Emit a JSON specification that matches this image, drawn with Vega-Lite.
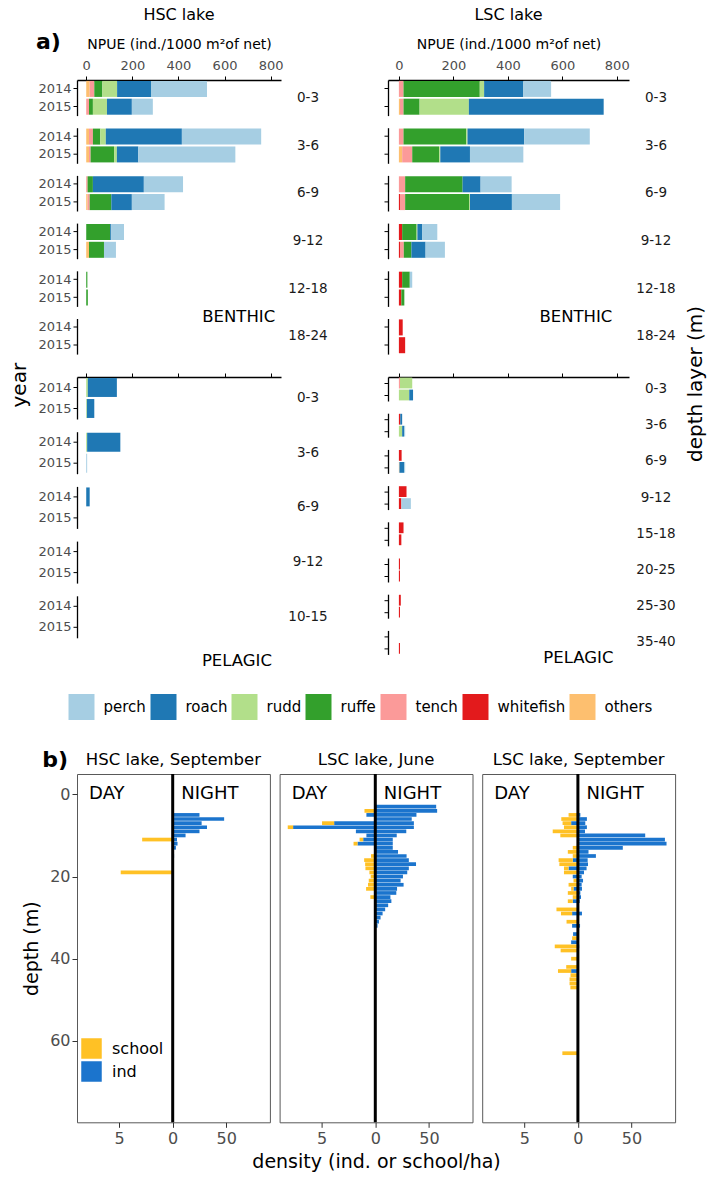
{
  "$schema": "https://vega.github.io/schema/vega-lite/v6.json",
  "padding": {"left": 9, "right": 4, "top": 7, "bottom": 5},
  "config": {
    "font": "DejaVu Sans",
    "view": {"stroke": null},
    "axis": {"grid": false, "labelFlush": false, "domainColor": "black", "tickColor": "black", "labelColor": "#4d4d4d", "titleColor": "black", "titleFontWeight": "normal"},
    "title": {"fontWeight": "normal", "color": "black"},
    "header": {"labelColor": "black"}
  },
  "datasets": {
    "npue": [
      {"lake": "HSC lake", "habitat": "benthic", "layer": "0-3", "year": "2014", "species": "others", "npue": 15},
      {"lake": "HSC lake", "habitat": "benthic", "layer": "0-3", "year": "2014", "species": "tench", "npue": 20},
      {"lake": "HSC lake", "habitat": "benthic", "layer": "0-3", "year": "2014", "species": "ruffe", "npue": 35},
      {"lake": "HSC lake", "habitat": "benthic", "layer": "0-3", "year": "2014", "species": "rudd", "npue": 64},
      {"lake": "HSC lake", "habitat": "benthic", "layer": "0-3", "year": "2014", "species": "roach", "npue": 147},
      {"lake": "HSC lake", "habitat": "benthic", "layer": "0-3", "year": "2014", "species": "perch", "npue": 243},
      {"lake": "HSC lake", "habitat": "benthic", "layer": "0-3", "year": "2015", "species": "tench", "npue": 12},
      {"lake": "HSC lake", "habitat": "benthic", "layer": "0-3", "year": "2015", "species": "ruffe", "npue": 17},
      {"lake": "HSC lake", "habitat": "benthic", "layer": "0-3", "year": "2015", "species": "rudd", "npue": 61},
      {"lake": "HSC lake", "habitat": "benthic", "layer": "0-3", "year": "2015", "species": "roach", "npue": 108},
      {"lake": "HSC lake", "habitat": "benthic", "layer": "0-3", "year": "2015", "species": "perch", "npue": 91},
      {"lake": "HSC lake", "habitat": "benthic", "layer": "3-6", "year": "2014", "species": "others", "npue": 12},
      {"lake": "HSC lake", "habitat": "benthic", "layer": "3-6", "year": "2014", "species": "tench", "npue": 17},
      {"lake": "HSC lake", "habitat": "benthic", "layer": "3-6", "year": "2014", "species": "ruffe", "npue": 32},
      {"lake": "HSC lake", "habitat": "benthic", "layer": "3-6", "year": "2014", "species": "rudd", "npue": 24},
      {"lake": "HSC lake", "habitat": "benthic", "layer": "3-6", "year": "2014", "species": "roach", "npue": 330},
      {"lake": "HSC lake", "habitat": "benthic", "layer": "3-6", "year": "2014", "species": "perch", "npue": 344},
      {"lake": "HSC lake", "habitat": "benthic", "layer": "3-6", "year": "2015", "species": "others", "npue": 12},
      {"lake": "HSC lake", "habitat": "benthic", "layer": "3-6", "year": "2015", "species": "tench", "npue": 7},
      {"lake": "HSC lake", "habitat": "benthic", "layer": "3-6", "year": "2015", "species": "ruffe", "npue": 102},
      {"lake": "HSC lake", "habitat": "benthic", "layer": "3-6", "year": "2015", "species": "rudd", "npue": 12},
      {"lake": "HSC lake", "habitat": "benthic", "layer": "3-6", "year": "2015", "species": "roach", "npue": 93},
      {"lake": "HSC lake", "habitat": "benthic", "layer": "3-6", "year": "2015", "species": "perch", "npue": 421},
      {"lake": "HSC lake", "habitat": "benthic", "layer": "6-9", "year": "2014", "species": "tench", "npue": 6},
      {"lake": "HSC lake", "habitat": "benthic", "layer": "6-9", "year": "2014", "species": "ruffe", "npue": 23},
      {"lake": "HSC lake", "habitat": "benthic", "layer": "6-9", "year": "2014", "species": "roach", "npue": 221},
      {"lake": "HSC lake", "habitat": "benthic", "layer": "6-9", "year": "2014", "species": "perch", "npue": 170},
      {"lake": "HSC lake", "habitat": "benthic", "layer": "6-9", "year": "2015", "species": "others", "npue": 6},
      {"lake": "HSC lake", "habitat": "benthic", "layer": "6-9", "year": "2015", "species": "tench", "npue": 9},
      {"lake": "HSC lake", "habitat": "benthic", "layer": "6-9", "year": "2015", "species": "ruffe", "npue": 94},
      {"lake": "HSC lake", "habitat": "benthic", "layer": "6-9", "year": "2015", "species": "roach", "npue": 89},
      {"lake": "HSC lake", "habitat": "benthic", "layer": "6-9", "year": "2015", "species": "perch", "npue": 142},
      {"lake": "HSC lake", "habitat": "benthic", "layer": "9-12", "year": "2014", "species": "ruffe", "npue": 104},
      {"lake": "HSC lake", "habitat": "benthic", "layer": "9-12", "year": "2014", "species": "roach", "npue": 5},
      {"lake": "HSC lake", "habitat": "benthic", "layer": "9-12", "year": "2014", "species": "perch", "npue": 55},
      {"lake": "HSC lake", "habitat": "benthic", "layer": "9-12", "year": "2015", "species": "others", "npue": 12},
      {"lake": "HSC lake", "habitat": "benthic", "layer": "9-12", "year": "2015", "species": "ruffe", "npue": 65},
      {"lake": "HSC lake", "habitat": "benthic", "layer": "9-12", "year": "2015", "species": "perch", "npue": 52},
      {"lake": "HSC lake", "habitat": "benthic", "layer": "12-18", "year": "2014", "species": "ruffe", "npue": 5},
      {"lake": "HSC lake", "habitat": "benthic", "layer": "12-18", "year": "2015", "species": "ruffe", "npue": 7},
      {"lake": "HSC lake", "habitat": "benthic", "layer": "18-24", "year": "2014", "species": "perch", "npue": 0},
      {"lake": "HSC lake", "habitat": "benthic", "layer": "18-24", "year": "2015", "species": "perch", "npue": 0},
      {"lake": "HSC lake", "habitat": "benthic", "layer": "18-24", "year": "2014", "note": "BENTHIC", "notex": 820},

      {"lake": "HSC lake", "habitat": "pelagic", "layer": "0-3", "year": "2014", "species": "rudd", "npue": 7},
      {"lake": "HSC lake", "habitat": "pelagic", "layer": "0-3", "year": "2014", "species": "roach", "npue": 126},
      {"lake": "HSC lake", "habitat": "pelagic", "layer": "0-3", "year": "2015", "species": "rudd", "npue": 3},
      {"lake": "HSC lake", "habitat": "pelagic", "layer": "0-3", "year": "2015", "species": "roach", "npue": 32},
      {"lake": "HSC lake", "habitat": "pelagic", "layer": "3-6", "year": "2014", "species": "rudd", "npue": 4},
      {"lake": "HSC lake", "habitat": "pelagic", "layer": "3-6", "year": "2014", "species": "roach", "npue": 144},
      {"lake": "HSC lake", "habitat": "pelagic", "layer": "3-6", "year": "2015", "species": "perch", "npue": 4},
      {"lake": "HSC lake", "habitat": "pelagic", "layer": "6-9", "year": "2014", "species": "roach", "npue": 15},
      {"lake": "HSC lake", "habitat": "pelagic", "layer": "6-9", "year": "2015", "species": "perch", "npue": 0},
      {"lake": "HSC lake", "habitat": "pelagic", "layer": "9-12", "year": "2014", "species": "perch", "npue": 0},
      {"lake": "HSC lake", "habitat": "pelagic", "layer": "9-12", "year": "2015", "species": "perch", "npue": 0},
      {"lake": "HSC lake", "habitat": "pelagic", "layer": "10-15", "year": "2014", "species": "perch", "npue": 0},
      {"lake": "HSC lake", "habitat": "pelagic", "layer": "10-15", "year": "2015", "species": "perch", "npue": 0},
      {"lake": "HSC lake", "habitat": "pelagic", "layer": "10-15", "year": "2015", "note": "PELAGIC", "notex": 806},

      {"lake": "LSC lake", "habitat": "benthic", "layer": "0-3", "year": "2014", "species": "tench", "npue": 17},
      {"lake": "LSC lake", "habitat": "benthic", "layer": "0-3", "year": "2014", "species": "ruffe", "npue": 280},
      {"lake": "LSC lake", "habitat": "benthic", "layer": "0-3", "year": "2014", "species": "rudd", "npue": 16},
      {"lake": "LSC lake", "habitat": "benthic", "layer": "0-3", "year": "2014", "species": "roach", "npue": 144},
      {"lake": "LSC lake", "habitat": "benthic", "layer": "0-3", "year": "2014", "species": "perch", "npue": 102},
      {"lake": "LSC lake", "habitat": "benthic", "layer": "0-3", "year": "2015", "species": "others", "npue": 4},
      {"lake": "LSC lake", "habitat": "benthic", "layer": "0-3", "year": "2015", "species": "tench", "npue": 13},
      {"lake": "LSC lake", "habitat": "benthic", "layer": "0-3", "year": "2015", "species": "ruffe", "npue": 59},
      {"lake": "LSC lake", "habitat": "benthic", "layer": "0-3", "year": "2015", "species": "rudd", "npue": 181},
      {"lake": "LSC lake", "habitat": "benthic", "layer": "0-3", "year": "2015", "species": "roach", "npue": 495},
      {"lake": "LSC lake", "habitat": "benthic", "layer": "3-6", "year": "2014", "species": "tench", "npue": 17},
      {"lake": "LSC lake", "habitat": "benthic", "layer": "3-6", "year": "2014", "species": "ruffe", "npue": 230},
      {"lake": "LSC lake", "habitat": "benthic", "layer": "3-6", "year": "2014", "species": "rudd", "npue": 5},
      {"lake": "LSC lake", "habitat": "benthic", "layer": "3-6", "year": "2014", "species": "roach", "npue": 208},
      {"lake": "LSC lake", "habitat": "benthic", "layer": "3-6", "year": "2014", "species": "perch", "npue": 241},
      {"lake": "LSC lake", "habitat": "benthic", "layer": "3-6", "year": "2015", "species": "others", "npue": 12},
      {"lake": "LSC lake", "habitat": "benthic", "layer": "3-6", "year": "2015", "species": "tench", "npue": 37},
      {"lake": "LSC lake", "habitat": "benthic", "layer": "3-6", "year": "2015", "species": "ruffe", "npue": 99},
      {"lake": "LSC lake", "habitat": "benthic", "layer": "3-6", "year": "2015", "species": "rudd", "npue": 4},
      {"lake": "LSC lake", "habitat": "benthic", "layer": "3-6", "year": "2015", "species": "roach", "npue": 109},
      {"lake": "LSC lake", "habitat": "benthic", "layer": "3-6", "year": "2015", "species": "perch", "npue": 196},
      {"lake": "LSC lake", "habitat": "benthic", "layer": "6-9", "year": "2014", "species": "tench", "npue": 23},
      {"lake": "LSC lake", "habitat": "benthic", "layer": "6-9", "year": "2014", "species": "ruffe", "npue": 211},
      {"lake": "LSC lake", "habitat": "benthic", "layer": "6-9", "year": "2014", "species": "roach", "npue": 66},
      {"lake": "LSC lake", "habitat": "benthic", "layer": "6-9", "year": "2014", "species": "perch", "npue": 114},
      {"lake": "LSC lake", "habitat": "benthic", "layer": "6-9", "year": "2015", "species": "whitefish", "npue": 4},
      {"lake": "LSC lake", "habitat": "benthic", "layer": "6-9", "year": "2015", "species": "tench", "npue": 19},
      {"lake": "LSC lake", "habitat": "benthic", "layer": "6-9", "year": "2015", "species": "ruffe", "npue": 235},
      {"lake": "LSC lake", "habitat": "benthic", "layer": "6-9", "year": "2015", "species": "rudd", "npue": 3},
      {"lake": "LSC lake", "habitat": "benthic", "layer": "6-9", "year": "2015", "species": "roach", "npue": 154},
      {"lake": "LSC lake", "habitat": "benthic", "layer": "6-9", "year": "2015", "species": "perch", "npue": 177},
      {"lake": "LSC lake", "habitat": "benthic", "layer": "9-12", "year": "2014", "species": "whitefish", "npue": 12},
      {"lake": "LSC lake", "habitat": "benthic", "layer": "9-12", "year": "2014", "species": "ruffe", "npue": 53},
      {"lake": "LSC lake", "habitat": "benthic", "layer": "9-12", "year": "2014", "species": "rudd", "npue": 3},
      {"lake": "LSC lake", "habitat": "benthic", "layer": "9-12", "year": "2014", "species": "roach", "npue": 17},
      {"lake": "LSC lake", "habitat": "benthic", "layer": "9-12", "year": "2014", "species": "perch", "npue": 56},
      {"lake": "LSC lake", "habitat": "benthic", "layer": "9-12", "year": "2015", "species": "whitefish", "npue": 4},
      {"lake": "LSC lake", "habitat": "benthic", "layer": "9-12", "year": "2015", "species": "tench", "npue": 14},
      {"lake": "LSC lake", "habitat": "benthic", "layer": "9-12", "year": "2015", "species": "ruffe", "npue": 28},
      {"lake": "LSC lake", "habitat": "benthic", "layer": "9-12", "year": "2015", "species": "roach", "npue": 52},
      {"lake": "LSC lake", "habitat": "benthic", "layer": "9-12", "year": "2015", "species": "perch", "npue": 71},
      {"lake": "LSC lake", "habitat": "benthic", "layer": "12-18", "year": "2014", "species": "whitefish", "npue": 12},
      {"lake": "LSC lake", "habitat": "benthic", "layer": "12-18", "year": "2014", "species": "ruffe", "npue": 28},
      {"lake": "LSC lake", "habitat": "benthic", "layer": "12-18", "year": "2014", "species": "perch", "npue": 9},
      {"lake": "LSC lake", "habitat": "benthic", "layer": "12-18", "year": "2015", "species": "whitefish", "npue": 9},
      {"lake": "LSC lake", "habitat": "benthic", "layer": "12-18", "year": "2015", "species": "ruffe", "npue": 11},
      {"lake": "LSC lake", "habitat": "benthic", "layer": "18-24", "year": "2014", "species": "whitefish", "npue": 14},
      {"lake": "LSC lake", "habitat": "benthic", "layer": "18-24", "year": "2015", "species": "whitefish", "npue": 23},
      {"lake": "LSC lake", "habitat": "benthic", "layer": "18-24", "year": "2014", "note": "BENTHIC", "notex": 784},

      {"lake": "LSC lake", "habitat": "pelagic", "layer": "0-3", "year": "2014", "species": "tench", "npue": 4},
      {"lake": "LSC lake", "habitat": "pelagic", "layer": "0-3", "year": "2014", "species": "rudd", "npue": 45},
      {"lake": "LSC lake", "habitat": "pelagic", "layer": "0-3", "year": "2015", "species": "rudd", "npue": 38},
      {"lake": "LSC lake", "habitat": "pelagic", "layer": "0-3", "year": "2015", "species": "roach", "npue": 14},
      {"lake": "LSC lake", "habitat": "pelagic", "layer": "3-6", "year": "2014", "species": "whitefish", "npue": 5},
      {"lake": "LSC lake", "habitat": "pelagic", "layer": "3-6", "year": "2014", "species": "roach", "npue": 7},
      {"lake": "LSC lake", "habitat": "pelagic", "layer": "3-6", "year": "2015", "species": "rudd", "npue": 12},
      {"lake": "LSC lake", "habitat": "pelagic", "layer": "3-6", "year": "2015", "species": "roach", "npue": 7},
      {"lake": "LSC lake", "habitat": "pelagic", "layer": "3-6", "year": "2015", "species": "perch", "npue": 4},
      {"lake": "LSC lake", "habitat": "pelagic", "layer": "6-9", "year": "2014", "species": "whitefish", "npue": 10},
      {"lake": "LSC lake", "habitat": "pelagic", "layer": "6-9", "year": "2015", "species": "others", "npue": 2},
      {"lake": "LSC lake", "habitat": "pelagic", "layer": "6-9", "year": "2015", "species": "roach", "npue": 17},
      {"lake": "LSC lake", "habitat": "pelagic", "layer": "6-9", "year": "2015", "species": "perch", "npue": 4},
      {"lake": "LSC lake", "habitat": "pelagic", "layer": "9-12", "year": "2014", "species": "whitefish", "npue": 28},
      {"lake": "LSC lake", "habitat": "pelagic", "layer": "9-12", "year": "2015", "species": "whitefish", "npue": 9},
      {"lake": "LSC lake", "habitat": "pelagic", "layer": "9-12", "year": "2015", "species": "perch", "npue": 35},
      {"lake": "LSC lake", "habitat": "pelagic", "layer": "15-18", "year": "2014", "species": "whitefish", "npue": 17},
      {"lake": "LSC lake", "habitat": "pelagic", "layer": "15-18", "year": "2015", "species": "whitefish", "npue": 9},
      {"lake": "LSC lake", "habitat": "pelagic", "layer": "20-25", "year": "2014", "species": "whitefish", "npue": 4},
      {"lake": "LSC lake", "habitat": "pelagic", "layer": "20-25", "year": "2015", "species": "whitefish", "npue": 4},
      {"lake": "LSC lake", "habitat": "pelagic", "layer": "25-30", "year": "2014", "species": "whitefish", "npue": 7},
      {"lake": "LSC lake", "habitat": "pelagic", "layer": "25-30", "year": "2015", "species": "whitefish", "npue": 4},
      {"lake": "LSC lake", "habitat": "pelagic", "layer": "35-40", "year": "2014", "species": "perch", "npue": 0},
      {"lake": "LSC lake", "habitat": "pelagic", "layer": "35-40", "year": "2015", "species": "whitefish", "npue": 4},
      {"lake": "LSC lake", "habitat": "pelagic", "layer": "35-40", "year": "2015", "note": "PELAGIC", "notex": 788}
    ],
    "dens": [
      {"panel": "HSC lake, September", "depth": 5, "period": "NIGHT", "type": "ind", "density": 25},
      {"panel": "HSC lake, September", "depth": 6, "period": "NIGHT", "type": "ind", "density": 48},
      {"panel": "HSC lake, September", "depth": 7, "period": "NIGHT", "type": "ind", "density": 27},
      {"panel": "HSC lake, September", "depth": 8, "period": "NIGHT", "type": "ind", "density": 32},
      {"panel": "HSC lake, September", "depth": 9, "period": "NIGHT", "type": "ind", "density": 25},
      {"panel": "HSC lake, September", "depth": 10, "period": "NIGHT", "type": "ind", "density": 12},
      {"panel": "HSC lake, September", "depth": 11, "period": "NIGHT", "type": "ind", "density": 4},
      {"panel": "HSC lake, September", "depth": 12, "period": "NIGHT", "type": "ind", "density": 4.5},
      {"panel": "HSC lake, September", "depth": 13, "period": "NIGHT", "type": "ind", "density": 3},
      {"panel": "HSC lake, September", "depth": 15, "period": "NIGHT", "type": "ind", "density": 1.3},
      {"panel": "HSC lake, September", "depth": 11, "period": "DAY", "type": "school", "density": 2.85},
      {"panel": "HSC lake, September", "depth": 19, "period": "DAY", "type": "school", "density": 4.85},

      {"panel": "LSC lake, June", "depth": 3, "period": "NIGHT", "type": "ind", "density": 56.8},
      {"panel": "LSC lake, June", "depth": 4, "period": "NIGHT", "type": "ind", "density": 57.7},
      {"panel": "LSC lake, June", "depth": 5, "period": "NIGHT", "type": "ind", "density": 38.4},
      {"panel": "LSC lake, June", "depth": 6, "period": "NIGHT", "type": "ind", "density": 34},
      {"panel": "LSC lake, June", "depth": 7, "period": "NIGHT", "type": "ind", "density": 36},
      {"panel": "LSC lake, June", "depth": 8, "period": "NIGHT", "type": "ind", "density": 36},
      {"panel": "LSC lake, June", "depth": 9, "period": "NIGHT", "type": "ind", "density": 28.9},
      {"panel": "LSC lake, June", "depth": 10, "period": "NIGHT", "type": "ind", "density": 20},
      {"panel": "LSC lake, June", "depth": 11, "period": "NIGHT", "type": "ind", "density": 16.3},
      {"panel": "LSC lake, June", "depth": 12, "period": "NIGHT", "type": "ind", "density": 16.3},
      {"panel": "LSC lake, June", "depth": 13, "period": "NIGHT", "type": "ind", "density": 16.3},
      {"panel": "LSC lake, June", "depth": 14, "period": "NIGHT", "type": "ind", "density": 21.2},
      {"panel": "LSC lake, June", "depth": 15, "period": "NIGHT", "type": "ind", "density": 29.2},
      {"panel": "LSC lake, June", "depth": 16, "period": "NIGHT", "type": "ind", "density": 31.3},
      {"panel": "LSC lake, June", "depth": 17, "period": "NIGHT", "type": "ind", "density": 38},
      {"panel": "LSC lake, June", "depth": 18, "period": "NIGHT", "type": "ind", "density": 31.3},
      {"panel": "LSC lake, June", "depth": 19, "period": "NIGHT", "type": "ind", "density": 29.8},
      {"panel": "LSC lake, June", "depth": 20, "period": "NIGHT", "type": "ind", "density": 25.8},
      {"panel": "LSC lake, June", "depth": 21, "period": "NIGHT", "type": "ind", "density": 23.6},
      {"panel": "LSC lake, June", "depth": 22, "period": "NIGHT", "type": "ind", "density": 26.4},
      {"panel": "LSC lake, June", "depth": 23, "period": "NIGHT", "type": "ind", "density": 20.3},
      {"panel": "LSC lake, June", "depth": 24, "period": "NIGHT", "type": "ind", "density": 19.6},
      {"panel": "LSC lake, June", "depth": 25, "period": "NIGHT", "type": "ind", "density": 14.1},
      {"panel": "LSC lake, June", "depth": 26, "period": "NIGHT", "type": "ind", "density": 15},
      {"panel": "LSC lake, June", "depth": 27, "period": "NIGHT", "type": "ind", "density": 12},
      {"panel": "LSC lake, June", "depth": 28, "period": "NIGHT", "type": "ind", "density": 9.2},
      {"panel": "LSC lake, June", "depth": 29, "period": "NIGHT", "type": "ind", "density": 6.8},
      {"panel": "LSC lake, June", "depth": 30, "period": "NIGHT", "type": "ind", "density": 4.9},
      {"panel": "LSC lake, June", "depth": 31, "period": "NIGHT", "type": "ind", "density": 3.4},
      {"panel": "LSC lake, June", "depth": 32, "period": "NIGHT", "type": "ind", "density": 2.1},
      {"panel": "LSC lake, June", "depth": 5, "period": "DAY", "type": "ind", "density": 0.83},
      {"panel": "LSC lake, June", "depth": 7, "period": "DAY", "type": "ind", "density": 3.84},
      {"panel": "LSC lake, June", "depth": 8, "period": "DAY", "type": "ind", "density": 7.67},
      {"panel": "LSC lake, June", "depth": 9, "period": "DAY", "type": "ind", "density": 1.81},
      {"panel": "LSC lake, June", "depth": 10, "period": "DAY", "type": "ind", "density": 0.83},
      {"panel": "LSC lake, June", "depth": 11, "period": "DAY", "type": "ind", "density": 1.13},
      {"panel": "LSC lake, June", "depth": 12, "period": "DAY", "type": "ind", "density": 1.66},
      {"panel": "LSC lake, June", "depth": 4, "period": "DAY", "type": "school", "density": 1.01},
      {"panel": "LSC lake, June", "depth": 7, "period": "DAY", "type": "school", "density": 1.13},
      {"panel": "LSC lake, June", "depth": 8, "period": "DAY", "type": "school", "density": 0.5},
      {"panel": "LSC lake, June", "depth": 11, "period": "DAY", "type": "school", "density": 0.34},
      {"panel": "LSC lake, June", "depth": 12, "period": "DAY", "type": "school", "density": 0.37},
      {"panel": "LSC lake, June", "depth": 15, "period": "DAY", "type": "school", "density": 0.4},
      {"panel": "LSC lake, June", "depth": 16, "period": "DAY", "type": "school", "density": 1.04},
      {"panel": "LSC lake, June", "depth": 17, "period": "DAY", "type": "school", "density": 0.95},
      {"panel": "LSC lake, June", "depth": 18, "period": "DAY", "type": "school", "density": 0.92},
      {"panel": "LSC lake, June", "depth": 19, "period": "DAY", "type": "school", "density": 0.55},
      {"panel": "LSC lake, June", "depth": 20, "period": "DAY", "type": "school", "density": 0.43},
      {"panel": "LSC lake, June", "depth": 21, "period": "DAY", "type": "school", "density": 0.61},
      {"panel": "LSC lake, June", "depth": 22, "period": "DAY", "type": "school", "density": 0.68},
      {"panel": "LSC lake, June", "depth": 23, "period": "DAY", "type": "school", "density": 0.86},
      {"panel": "LSC lake, June", "depth": 25, "period": "DAY", "type": "school", "density": 0.46},

      {"panel": "LSC lake, September", "depth": 5, "period": "NIGHT", "type": "ind", "density": 2.3},
      {"panel": "LSC lake, September", "depth": 6, "period": "NIGHT", "type": "ind", "density": 8.4},
      {"panel": "LSC lake, September", "depth": 7, "period": "NIGHT", "type": "ind", "density": 6.9},
      {"panel": "LSC lake, September", "depth": 8, "period": "NIGHT", "type": "ind", "density": 8.4},
      {"panel": "LSC lake, September", "depth": 9, "period": "NIGHT", "type": "ind", "density": 6.6},
      {"panel": "LSC lake, September", "depth": 10, "period": "NIGHT", "type": "ind", "density": 62.8},
      {"panel": "LSC lake, September", "depth": 11, "period": "NIGHT", "type": "ind", "density": 81.2},
      {"panel": "LSC lake, September", "depth": 12, "period": "NIGHT", "type": "ind", "density": 82.7},
      {"panel": "LSC lake, September", "depth": 13, "period": "NIGHT", "type": "ind", "density": 41.9},
      {"panel": "LSC lake, September", "depth": 14, "period": "NIGHT", "type": "ind", "density": 9.9},
      {"panel": "LSC lake, September", "depth": 15, "period": "NIGHT", "type": "ind", "density": 16.8},
      {"panel": "LSC lake, September", "depth": 16, "period": "NIGHT", "type": "ind", "density": 9.1},
      {"panel": "LSC lake, September", "depth": 17, "period": "NIGHT", "type": "ind", "density": 9.4},
      {"panel": "LSC lake, September", "depth": 18, "period": "NIGHT", "type": "ind", "density": 8.1},
      {"panel": "LSC lake, September", "depth": 19, "period": "NIGHT", "type": "ind", "density": 5.7},
      {"panel": "LSC lake, September", "depth": 20, "period": "NIGHT", "type": "ind", "density": 3.5},
      {"panel": "LSC lake, September", "depth": 21, "period": "NIGHT", "type": "ind", "density": 4.8},
      {"panel": "LSC lake, September", "depth": 22, "period": "NIGHT", "type": "ind", "density": 3.5},
      {"panel": "LSC lake, September", "depth": 23, "period": "NIGHT", "type": "ind", "density": 3.8},
      {"panel": "LSC lake, September", "depth": 24, "period": "NIGHT", "type": "ind", "density": 2.3},
      {"panel": "LSC lake, September", "depth": 25, "period": "NIGHT", "type": "ind", "density": 2.9},
      {"panel": "LSC lake, September", "depth": 26, "period": "NIGHT", "type": "ind", "density": 1.7},
      {"panel": "LSC lake, September", "depth": 29, "period": "NIGHT", "type": "ind", "density": 3.8},
      {"panel": "LSC lake, September", "depth": 32, "period": "NIGHT", "type": "ind", "density": 2.0},
      {"panel": "LSC lake, September", "depth": 34, "period": "NIGHT", "type": "ind", "density": 1.0},
      {"panel": "LSC lake, September", "depth": 37, "period": "NIGHT", "type": "ind", "density": 1.2},
      {"panel": "LSC lake, September", "depth": 7, "period": "DAY", "type": "ind", "density": 0.63},
      {"panel": "LSC lake, September", "depth": 16, "period": "DAY", "type": "ind", "density": 0.48},
      {"panel": "LSC lake, September", "depth": 18, "period": "DAY", "type": "ind", "density": 0.87},
      {"panel": "LSC lake, September", "depth": 20, "period": "DAY", "type": "ind", "density": 0.48},
      {"panel": "LSC lake, September", "depth": 23, "period": "DAY", "type": "ind", "density": 0.41},
      {"panel": "LSC lake, September", "depth": 26, "period": "DAY", "type": "ind", "density": 0.48},
      {"panel": "LSC lake, September", "depth": 29, "period": "DAY", "type": "ind", "density": 0.54},
      {"panel": "LSC lake, September", "depth": 32, "period": "DAY", "type": "ind", "density": 0.54},
      {"panel": "LSC lake, September", "depth": 34, "period": "DAY", "type": "ind", "density": 0.45},
      {"panel": "LSC lake, September", "depth": 36, "period": "DAY", "type": "ind", "density": 0.63},
      {"panel": "LSC lake, September", "depth": 43, "period": "DAY", "type": "ind", "density": 0.63},
      {"panel": "LSC lake, September", "depth": 5, "period": "DAY", "type": "school", "density": 0.87},
      {"panel": "LSC lake, September", "depth": 6, "period": "DAY", "type": "school", "density": 1.55},
      {"panel": "LSC lake, September", "depth": 7, "period": "DAY", "type": "school", "density": 0.8},
      {"panel": "LSC lake, September", "depth": 8, "period": "DAY", "type": "school", "density": 1.3},
      {"panel": "LSC lake, September", "depth": 9, "period": "DAY", "type": "school", "density": 2.35},
      {"panel": "LSC lake, September", "depth": 10, "period": "DAY", "type": "school", "density": 1.64},
      {"panel": "LSC lake, September", "depth": 13, "period": "DAY", "type": "school", "density": 0.48},
      {"panel": "LSC lake, September", "depth": 14, "period": "DAY", "type": "school", "density": 0.94},
      {"panel": "LSC lake, September", "depth": 15, "period": "DAY", "type": "school", "density": 0.48},
      {"panel": "LSC lake, September", "depth": 16, "period": "DAY", "type": "school", "density": 1.32},
      {"panel": "LSC lake, September", "depth": 17, "period": "DAY", "type": "school", "density": 1.73},
      {"panel": "LSC lake, September", "depth": 18, "period": "DAY", "type": "school", "density": 0.43},
      {"panel": "LSC lake, September", "depth": 19, "period": "DAY", "type": "school", "density": 1.3},
      {"panel": "LSC lake, September", "depth": 21, "period": "DAY", "type": "school", "density": 0.41},
      {"panel": "LSC lake, September", "depth": 22, "period": "DAY", "type": "school", "density": 0.87},
      {"panel": "LSC lake, September", "depth": 23, "period": "DAY", "type": "school", "density": 0.22},
      {"panel": "LSC lake, September", "depth": 24, "period": "DAY", "type": "school", "density": 0.94},
      {"panel": "LSC lake, September", "depth": 25, "period": "DAY", "type": "school", "density": 0.48},
      {"panel": "LSC lake, September", "depth": 26, "period": "DAY", "type": "school", "density": 0.46},
      {"panel": "LSC lake, September", "depth": 28, "period": "DAY", "type": "school", "density": 2.0},
      {"panel": "LSC lake, September", "depth": 29, "period": "DAY", "type": "school", "density": 1.04},
      {"panel": "LSC lake, September", "depth": 31, "period": "DAY", "type": "school", "density": 1.06},
      {"panel": "LSC lake, September", "depth": 35, "period": "DAY", "type": "school", "density": 0.54},
      {"panel": "LSC lake, September", "depth": 37, "period": "DAY", "type": "school", "density": 2.16},
      {"panel": "LSC lake, September", "depth": 38, "period": "DAY", "type": "school", "density": 1.61},
      {"panel": "LSC lake, September", "depth": 40, "period": "DAY", "type": "school", "density": 0.63},
      {"panel": "LSC lake, September", "depth": 42, "period": "DAY", "type": "school", "density": 1.09},
      {"panel": "LSC lake, September", "depth": 43, "period": "DAY", "type": "school", "density": 1.23},
      {"panel": "LSC lake, September", "depth": 44, "period": "DAY", "type": "school", "density": 0.69},
      {"panel": "LSC lake, September", "depth": 45, "period": "DAY", "type": "school", "density": 0.78},
      {"panel": "LSC lake, September", "depth": 46, "period": "DAY", "type": "school", "density": 0.78},
      {"panel": "LSC lake, September", "depth": 47, "period": "DAY", "type": "school", "density": 0.7},
      {"panel": "LSC lake, September", "depth": 63, "period": "DAY", "type": "school", "density": 1.45}
    ]
  },
  "resolve": {"scale": {"color": "independent"}},
  "spacing": 28,
  "vconcat": [
    {
      "title": {"text": "a)", "anchor": "start", "fontSize": 22, "fontWeight": "bold", "dx": 26, "dy": 51},
      "spacing": 55,
      "hconcat": [
        {
          "title": {"text": "year", "orient": "left", "anchor": "middle", "fontSize": 20, "offset": 8, "dx": -47},
          "spacing": 17,
          "vconcat": [
            {
              "data": {"name": "npue"},
              "transform": [
                {"filter": "datum.lake == 'HSC lake' && datum.habitat == 'benthic'"},
                {"calculate": "indexof(['others','whitefish','tench','ruffe','rudd','roach','perch'], datum.species)", "as": "ord"}
              ],
              "facet": {
                "column": {"field": "lake", "type": "nominal", "title": null, "header": {"labelFontSize": 16, "labelColor": "black", "labelPadding": 14}},
                "row": {"field": "layer", "type": "nominal", "sort": ["0-3", "3-6", "6-9", "9-12", "12-18", "18-24"], "title": null, "header": {"labels": false}}
              },
              "spacing": {"row": 11.7},
              "bounds": "flush",
              "spec": {
                "width": 204, "height": 35.6,
                "layer": [
                  {
                    "transform": [{"filter": "datum.species != null"}],
                    "mark": {"type": "bar"},
                    "encoding": {
                      "y": {"field": "year", "type": "nominal", "scale": {"domain": ["2014", "2015"], "paddingInner": 0.1, "paddingOuter": 0.05}, "axis": {"title": null, "labelFontSize": 13, "tickSize": 4, "domainWidth": 1.3, "labelPadding": 2}},
                      "x": {"field": "npue", "type": "quantitative", "stack": "zero", "scale": {"domain": [-40, 845], "nice": false, "zero": false}, "axis": {"orient": "top", "values": [0, 200, 400, 600, 800], "title": "NPUE (ind./1000 m²of net)", "titleFontSize": 14, "titlePadding": 8, "labelFontSize": 13, "labelPadding": 4, "tickSize": 4, "domainWidth": 1.3}},
                      "color": {"field": "species", "type": "nominal", "scale": {"domain": ["perch", "roach", "rudd", "ruffe", "tench", "whitefish", "others"], "range": ["#a6cee3", "#1f78b4", "#b2df8a", "#33a02c", "#fb9a99", "#e31a1c", "#fdbf6f"]}, "legend": {"orient": "none", "legendX": -8.5, "legendY": 614, "direction": "horizontal", "title": null, "symbolType": "square", "symbolSize": 676, "symbolStrokeWidth": 0, "symbolOpacity": 1, "labelFontSize": 15, "labelColor": "black", "labelOffset": 9, "columnPadding": 4}},
                      "order": {"field": "ord", "type": "quantitative"}
                    }
                  },
                  {
                    "transform": [{"filter": "datum.species != null"}, {"aggregate": [{"op": "count", "as": "n"}], "groupby": ["lake", "layer"]}],
                    "mark": {"type": "text", "fontSize": 13.5, "align": "center", "baseline": "middle", "color": "#1a1a1a"},
                    "encoding": {"x": {"datum": 962}, "text": {"field": "layer"}}
                  },
                  {
                    "transform": [{"filter": "datum.note != null"}],
                    "mark": {"type": "text", "fontSize": 16.5, "align": "right", "baseline": "middle", "dy": -10.6, "color": "black"},
                    "encoding": {"x": {"field": "notex", "type": "quantitative"}, "y": {"field": "year", "type": "nominal"}, "text": {"field": "note"}}
                  }
                ]
              }
            },
            {
              "data": {"name": "npue"},
              "transform": [
                {"filter": "datum.lake == 'HSC lake' && datum.habitat == 'pelagic'"},
                {"calculate": "indexof(['others','whitefish','tench','ruffe','rudd','roach','perch'], datum.species)", "as": "ord"}
              ],
              "facet": {
                "row": {"field": "layer", "type": "nominal", "sort": ["0-3", "3-6", "6-9", "9-12", "10-15"], "title": null, "header": {"labels": false}}
              },
              "spacing": {"row": 12.7},
              "bounds": "flush",
              "spec": {
                "width": 204, "height": 42,
                "layer": [
                  {
                    "transform": [{"filter": "datum.species != null"}],
                    "mark": {"type": "bar"},
                    "encoding": {
                      "y": {"field": "year", "type": "nominal", "scale": {"domain": ["2014", "2015"], "paddingInner": 0.1, "paddingOuter": 0.05}, "axis": {"title": null, "labelFontSize": 13, "tickSize": 4, "domainWidth": 1.3, "labelPadding": 2}},
                      "x": {"field": "npue", "type": "quantitative", "stack": "zero", "scale": {"domain": [-40, 845], "nice": false, "zero": false}, "axis": {"orient": "top", "values": [0, 200, 400, 600, 800], "title": null, "labels": false, "tickSize": 4, "domainWidth": 1.3}},
                      "color": {"field": "species", "type": "nominal", "scale": {"domain": ["perch", "roach", "rudd", "ruffe", "tench", "whitefish", "others"], "range": ["#a6cee3", "#1f78b4", "#b2df8a", "#33a02c", "#fb9a99", "#e31a1c", "#fdbf6f"]}, "legend": {"orient": "none", "legendX": -8.5, "legendY": 614, "direction": "horizontal", "title": null, "symbolType": "square", "symbolSize": 676, "symbolStrokeWidth": 0, "symbolOpacity": 1, "labelFontSize": 15, "labelColor": "black", "labelOffset": 9, "columnPadding": 4}},
                      "order": {"field": "ord", "type": "quantitative"}
                    }
                  },
                  {
                    "transform": [{"filter": "datum.species != null"}, {"aggregate": [{"op": "count", "as": "n"}], "groupby": ["lake", "layer"]}],
                    "mark": {"type": "text", "fontSize": 13.5, "align": "center", "baseline": "middle", "color": "#1a1a1a"},
                    "encoding": {"x": {"datum": 962}, "text": {"field": "layer"}}
                  },
                  {
                    "transform": [{"filter": "datum.note != null"}],
                    "mark": {"type": "text", "fontSize": 16.5, "align": "right", "baseline": "middle", "dy": 33.5, "color": "black"},
                    "encoding": {"x": {"field": "notex", "type": "quantitative"}, "y": {"field": "year", "type": "nominal"}, "text": {"field": "note"}}
                  }
                ]
              }
            }
          ]
        },
        {
          "title": {"text": "depth layer (m)", "orient": "right", "anchor": "middle", "angle": -90, "fontSize": 20, "offset": -10, "dx": -47},
          "spacing": 17,
          "vconcat": [
            {
              "data": {"name": "npue"},
              "transform": [
                {"filter": "datum.lake == 'LSC lake' && datum.habitat == 'benthic'"},
                {"calculate": "indexof(['others','whitefish','tench','ruffe','rudd','roach','perch'], datum.species)", "as": "ord"}
              ],
              "facet": {
                "column": {"field": "lake", "type": "nominal", "title": null, "header": {"labelFontSize": 16, "labelColor": "black", "labelPadding": 14}},
                "row": {"field": "layer", "type": "nominal", "sort": ["0-3", "3-6", "6-9", "9-12", "12-18", "18-24"], "title": null, "header": {"labels": false}}
              },
              "spacing": {"row": 11.7},
              "bounds": "flush",
              "spec": {
                "width": 241, "height": 35.6,
                "layer": [
                  {
                    "transform": [{"filter": "datum.species != null"}],
                    "mark": {"type": "bar"},
                    "encoding": {
                      "y": {"field": "year", "type": "nominal", "scale": {"domain": ["2014", "2015"], "paddingInner": 0.1, "paddingOuter": 0.05}, "axis": {"title": null, "labels": false, "tickSize": 4, "domainWidth": 1.3}},
                      "x": {"field": "npue", "type": "quantitative", "stack": "zero", "scale": {"domain": [-40, 845], "nice": false, "zero": false}, "axis": {"orient": "top", "values": [0, 200, 400, 600, 800], "title": "NPUE (ind./1000 m²of net)", "titleFontSize": 14, "titlePadding": 8, "labelFontSize": 13, "labelPadding": 4, "tickSize": 4, "domainWidth": 1.3}},
                      "color": {"field": "species", "type": "nominal", "scale": {"domain": ["perch", "roach", "rudd", "ruffe", "tench", "whitefish", "others"], "range": ["#a6cee3", "#1f78b4", "#b2df8a", "#33a02c", "#fb9a99", "#e31a1c", "#fdbf6f"]}, "legend": {"orient": "none", "legendX": -8.5, "legendY": 614, "direction": "horizontal", "title": null, "symbolType": "square", "symbolSize": 676, "symbolStrokeWidth": 0, "symbolOpacity": 1, "labelFontSize": 15, "labelColor": "black", "labelOffset": 9, "columnPadding": 4}},
                      "order": {"field": "ord", "type": "quantitative"}
                    }
                  },
                  {
                    "transform": [{"filter": "datum.species != null"}, {"aggregate": [{"op": "count", "as": "n"}], "groupby": ["lake", "layer"]}],
                    "mark": {"type": "text", "fontSize": 13.5, "align": "center", "baseline": "middle", "color": "#1a1a1a"},
                    "encoding": {"x": {"datum": 944}, "text": {"field": "layer"}}
                  },
                  {
                    "transform": [{"filter": "datum.note != null"}],
                    "mark": {"type": "text", "fontSize": 16.5, "align": "right", "baseline": "middle", "dy": -10.6, "color": "black"},
                    "encoding": {"x": {"field": "notex", "type": "quantitative"}, "y": {"field": "year", "type": "nominal"}, "text": {"field": "note"}}
                  }
                ]
              }
            },
            {
              "data": {"name": "npue"},
              "transform": [
                {"filter": "datum.lake == 'LSC lake' && datum.habitat == 'pelagic'"},
                {"calculate": "indexof(['others','whitefish','tench','ruffe','rudd','roach','perch'], datum.species)", "as": "ord"}
              ],
              "facet": {
                "row": {"field": "layer", "type": "nominal", "sort": ["0-3", "3-6", "6-9", "9-12", "15-18", "20-25", "25-30", "35-40"], "title": null, "header": {"labels": false}}
              },
              "spacing": {"row": 12.2},
              "bounds": "flush",
              "spec": {
                "width": 241, "height": 24,
                "layer": [
                  {
                    "transform": [{"filter": "datum.species != null"}],
                    "mark": {"type": "bar"},
                    "encoding": {
                      "y": {"field": "year", "type": "nominal", "scale": {"domain": ["2014", "2015"], "paddingInner": 0.1, "paddingOuter": 0.05}, "axis": {"title": null, "labels": false, "tickSize": 4, "domainWidth": 1.3}},
                      "x": {"field": "npue", "type": "quantitative", "stack": "zero", "scale": {"domain": [-40, 845], "nice": false, "zero": false}, "axis": {"orient": "top", "values": [0, 200, 400, 600, 800], "title": null, "labels": false, "tickSize": 4, "domainWidth": 1.3}},
                      "color": {"field": "species", "type": "nominal", "scale": {"domain": ["perch", "roach", "rudd", "ruffe", "tench", "whitefish", "others"], "range": ["#a6cee3", "#1f78b4", "#b2df8a", "#33a02c", "#fb9a99", "#e31a1c", "#fdbf6f"]}, "legend": {"orient": "none", "legendX": -8.5, "legendY": 614, "direction": "horizontal", "title": null, "symbolType": "square", "symbolSize": 676, "symbolStrokeWidth": 0, "symbolOpacity": 1, "labelFontSize": 15, "labelColor": "black", "labelOffset": 9, "columnPadding": 4}},
                      "order": {"field": "ord", "type": "quantitative"}
                    }
                  },
                  {
                    "transform": [{"filter": "datum.species != null"}, {"aggregate": [{"op": "count", "as": "n"}], "groupby": ["lake", "layer"]}],
                    "mark": {"type": "text", "fontSize": 13.5, "align": "center", "baseline": "middle", "color": "#1a1a1a"},
                    "encoding": {"x": {"datum": 944}, "text": {"field": "layer"}}
                  },
                  {
                    "transform": [{"filter": "datum.note != null"}],
                    "mark": {"type": "text", "fontSize": 16.5, "align": "right", "baseline": "middle", "dy": 10, "color": "black"},
                    "encoding": {"x": {"field": "notex", "type": "quantitative"}, "y": {"field": "year", "type": "nominal"}, "text": {"field": "note"}}
                  }
                ]
              }
            }
          ]
        }
      ]
    },
    {
      "title": {"text": "b)", "anchor": "start", "fontSize": 22, "fontWeight": "bold", "dx": 20, "dy": 24},
      "spacing": 9.6,
      "bounds": "flush",
      "resolve": {"scale": {"color": "independent"}},
      "hconcat": [
        {
          "width": 192.9, "height": 348.3,
          "view": {"stroke": "#595959"},
          "title": {"text": "HSC lake, September", "fontSize": 16.5, "offset": 4},
          "data": {"name": "dens"},
          "transform": [
            {"filter": "datum.panel == 'HSC lake, September'"},
            {"calculate": "datum.period == 'DAY' ? -10 * datum.density : datum.density", "as": "xval"}
          ],
          "layer": [
            {
              "mark": {"type": "bar", "orient": "horizontal", "size": 3.7},
              "encoding": {
                "y": {"field": "depth", "type": "quantitative", "scale": {"domain": [-3.74, 78.6], "reverse": true, "nice": false, "zero": false}, "axis": {"values": [0, 20, 40, 60], "title": "depth (m)", "titleFontSize": 19, "titlePadding": 8, "labelFontSize": 16, "domain": false, "tickColor": "#333333", "tickSize": 5}},
                "x": {"field": "xval", "type": "quantitative", "stack": "zero", "scale": {"domain": [-89.3, 90.7], "nice": false, "zero": false}, "axis": {"values": [-50, 0, 50], "labelExpr": "datum.value < 0 ? format(-datum.value / 10, 'd') : format(datum.value, 'd')", "title": null, "labelFontSize": 16, "domain": false, "tickColor": "#333333", "tickSize": 5, "labelPadding": 3}},
                "color": {"field": "type", "type": "nominal", "scale": {"domain": ["school", "ind"], "range": ["#FFC125", "#1B74CD"]}, "legend": {"orient": "none", "legendX": 4, "legendY": 264, "title": null, "symbolType": "square", "symbolSize": 420, "symbolStrokeWidth": 0, "symbolOpacity": 1, "labelFontSize": 16, "labelColor": "black", "labelOffset": 10, "rowPadding": 2}},
                "order": {"field": "type", "type": "nominal", "sort": "ascending"}
              }
            },
            {"data": {"values": [{}]}, "mark": {"type": "rule", "color": "black", "strokeWidth": 3}, "encoding": {"x": {"datum": 0}}},
            {"data": {"values": [{}]}, "mark": {"type": "text", "fontSize": 18, "align": "left", "baseline": "middle", "color": "black"}, "encoding": {"x": {"datum": -78}, "y": {"datum": 0}, "text": {"value": "DAY"}}},
            {"data": {"values": [{}]}, "mark": {"type": "text", "fontSize": 18, "align": "left", "baseline": "middle", "color": "black"}, "encoding": {"x": {"datum": 8}, "y": {"datum": 0}, "text": {"value": "NIGHT"}}}
          ]
        },
        {
          "width": 192.9, "height": 348.3,
          "view": {"stroke": "#595959"},
          "title": {"text": "LSC lake, June", "fontSize": 16.5, "offset": 4},
          "data": {"name": "dens"},
          "transform": [
            {"filter": "datum.panel == 'LSC lake, June'"},
            {"calculate": "datum.period == 'DAY' ? -10 * datum.density : datum.density", "as": "xval"}
          ],
          "layer": [
            {
              "mark": {"type": "bar", "orient": "horizontal", "size": 3.7},
              "encoding": {
                "y": {"field": "depth", "type": "quantitative", "scale": {"domain": [-3.74, 78.6], "reverse": true, "nice": false, "zero": false}, "axis": null},
                "x": {"field": "xval", "type": "quantitative", "stack": "zero", "scale": {"domain": [-89.3, 90.7], "nice": false, "zero": false}, "axis": {"values": [-50, 0, 50], "labelExpr": "datum.value < 0 ? format(-datum.value / 10, 'd') : format(datum.value, 'd')", "title": "density (ind. or school/ha)", "titleFontSize": 19, "titlePadding": 6, "labelFontSize": 16, "domain": false, "tickColor": "#333333", "tickSize": 5, "labelPadding": 3}},
                "color": {"field": "type", "type": "nominal", "scale": {"domain": ["school", "ind"], "range": ["#FFC125", "#1B74CD"]}, "legend": null},
                "order": {"field": "type", "type": "nominal", "sort": "ascending"}
              }
            },
            {"data": {"values": [{}]}, "mark": {"type": "rule", "color": "black", "strokeWidth": 3}, "encoding": {"x": {"datum": 0}}},
            {"data": {"values": [{}]}, "mark": {"type": "text", "fontSize": 18, "align": "left", "baseline": "middle", "color": "black"}, "encoding": {"x": {"datum": -78}, "y": {"datum": 0}, "text": {"value": "DAY"}}},
            {"data": {"values": [{}]}, "mark": {"type": "text", "fontSize": 18, "align": "left", "baseline": "middle", "color": "black"}, "encoding": {"x": {"datum": 8}, "y": {"datum": 0}, "text": {"value": "NIGHT"}}}
          ]
        },
        {
          "width": 192.9, "height": 348.3,
          "view": {"stroke": "#595959"},
          "title": {"text": "LSC lake, September", "fontSize": 16.5, "offset": 4},
          "data": {"name": "dens"},
          "transform": [
            {"filter": "datum.panel == 'LSC lake, September'"},
            {"calculate": "datum.period == 'DAY' ? -10 * datum.density : datum.density", "as": "xval"}
          ],
          "layer": [
            {
              "mark": {"type": "bar", "orient": "horizontal", "size": 3.7},
              "encoding": {
                "y": {"field": "depth", "type": "quantitative", "scale": {"domain": [-3.74, 78.6], "reverse": true, "nice": false, "zero": false}, "axis": null},
                "x": {"field": "xval", "type": "quantitative", "stack": "zero", "scale": {"domain": [-89.3, 90.7], "nice": false, "zero": false}, "axis": {"values": [-50, 0, 50], "labelExpr": "datum.value < 0 ? format(-datum.value / 10, 'd') : format(datum.value, 'd')", "title": null, "labelFontSize": 16, "domain": false, "tickColor": "#333333", "tickSize": 5, "labelPadding": 3}},
                "color": {"field": "type", "type": "nominal", "scale": {"domain": ["school", "ind"], "range": ["#FFC125", "#1B74CD"]}, "legend": null},
                "order": {"field": "type", "type": "nominal", "sort": "ascending"}
              }
            },
            {"data": {"values": [{}]}, "mark": {"type": "rule", "color": "black", "strokeWidth": 3}, "encoding": {"x": {"datum": 0}}},
            {"data": {"values": [{}]}, "mark": {"type": "text", "fontSize": 18, "align": "left", "baseline": "middle", "color": "black"}, "encoding": {"x": {"datum": -78}, "y": {"datum": 0}, "text": {"value": "DAY"}}},
            {"data": {"values": [{}]}, "mark": {"type": "text", "fontSize": 18, "align": "left", "baseline": "middle", "color": "black"}, "encoding": {"x": {"datum": 8}, "y": {"datum": 0}, "text": {"value": "NIGHT"}}}
          ]
        }
      ]
    }
  ]
}
